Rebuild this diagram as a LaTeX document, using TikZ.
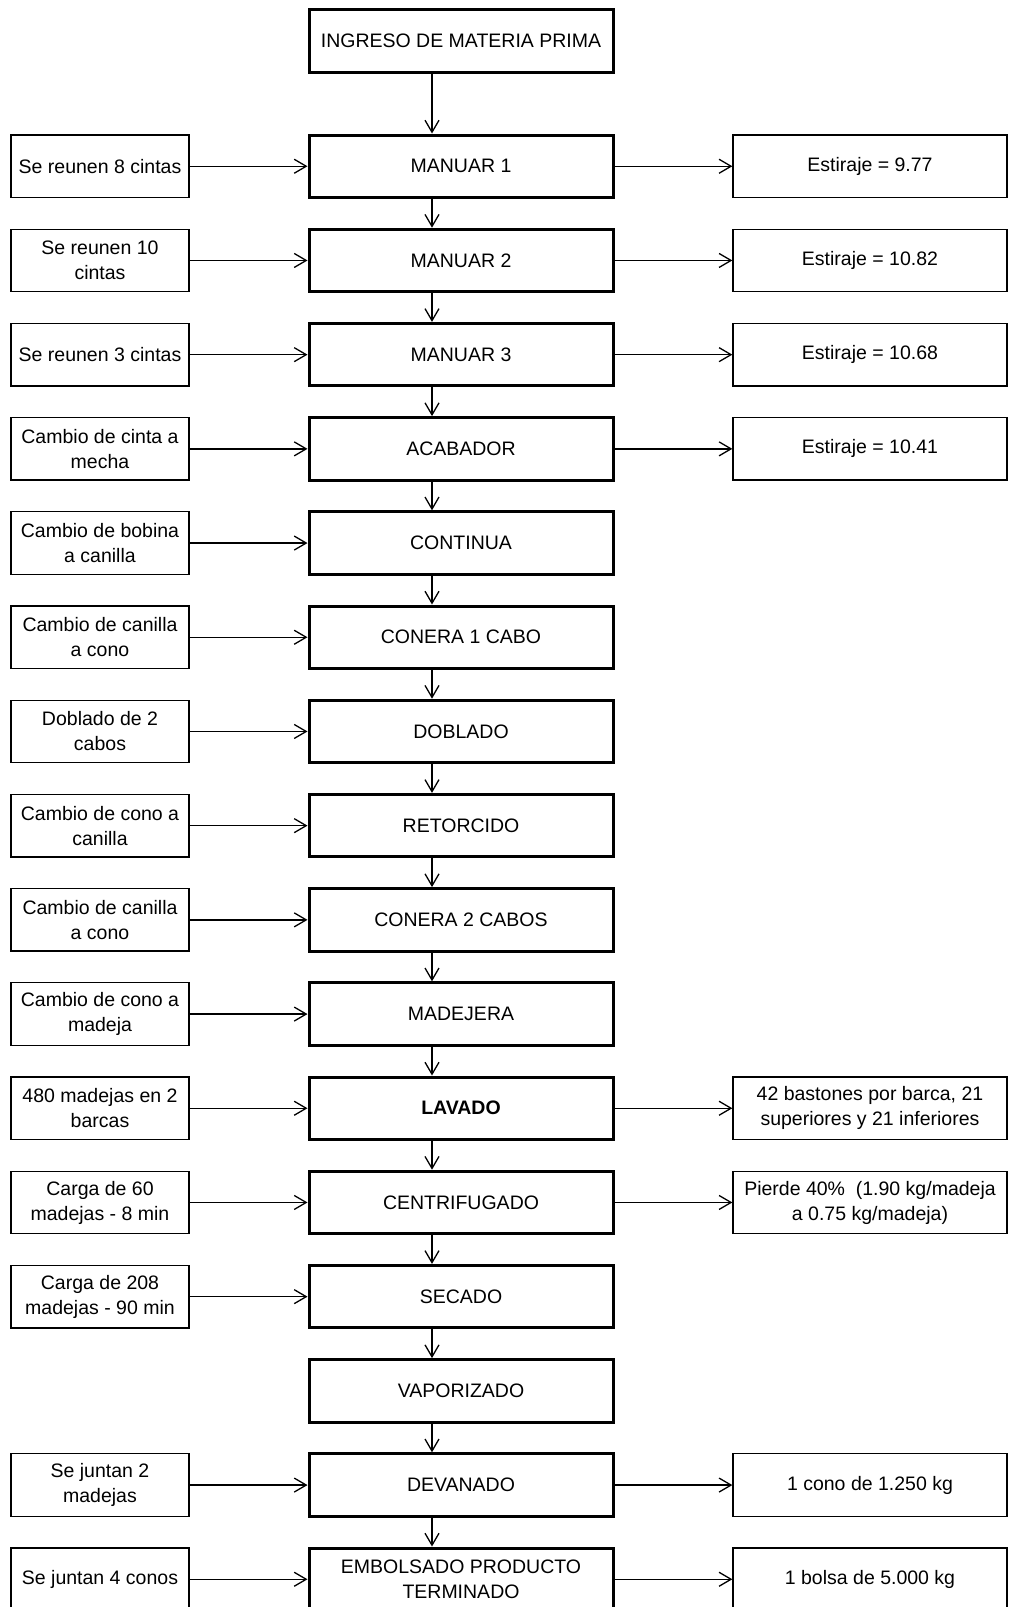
\documentclass[tikz,border=0pt]{standalone}
\usepackage{fontspec}
\setmainfont{Liberation Sans}
\usetikzlibrary{arrows.meta}
\begin{document}
\begin{tikzpicture}[x=1pt,y=-1pt,
  txt/.style={align=center, inner sep=0pt, font=\fontsize{19.5}{25}\selectfont, text=black},
  mainbox/.style={txt, draw, line width=3pt, minimum width=304pt, minimum height=62.5pt},
  leftbox/.style={txt, draw, line width=1.3pt, minimum width=178pt, minimum height=62.5pt},
  rightbox/.style={txt, draw, line width=1.3pt, minimum width=274pt, minimum height=62.5pt},
  arr/.style={line width=1.3pt, -{Straight Barb[length=12pt,width=14pt]}}]
\useasboundingbox (0,0) rectangle (1009,1607);
\coordinate (vx) at (432,0);

% main column
\node[mainbox] (t)   at (461,40.75)   {INGRESO DE MATERIA PRIMA};
\node[mainbox] (m0)  at (461,166.25)  {MANUAR 1};
\node[mainbox] (m1)  at (461,260.45)  {MANUAR 2};
\node[mainbox] (m2)  at (461,354.65)  {MANUAR 3};
\node[mainbox] (m3)  at (461,448.85)  {ACABADOR};
\node[mainbox] (m4)  at (461,543.05)  {CONTINUA};
\node[mainbox] (m5)  at (461,637.25)  {CONERA 1 CABO};
\node[mainbox] (m6)  at (461,731.45)  {DOBLADO};
\node[mainbox] (m7)  at (461,825.65)  {RETORCIDO};
\node[mainbox] (m8)  at (461,919.85)  {CONERA 2 CABOS};
\node[mainbox] (m9)  at (461,1014.05) {MADEJERA};
\node[mainbox] (m10) at (461,1108.25) {\textbf{LAVADO}};
\node[mainbox] (m11) at (461,1202.45) {CENTRIFUGADO};
\node[mainbox] (m12) at (461,1296.65) {SECADO};
\node[mainbox] (m13) at (461,1390.85) {VAPORIZADO};
\node[mainbox] (m14) at (461,1485.05) {DEVANADO};
\node[mainbox] (m15) at (461,1579.25) {EMBOLSADO PRODUCTO\\TERMINADO};

% vertical arrows
\draw[arr] (t.south -| vx) -- (m0.north -| vx);
\foreach \a/\b in {m0/m1,m1/m2,m2/m3,m3/m4,m4/m5,m5/m6,m6/m7,m7/m8,m8/m9,m9/m10,m10/m11,m11/m12,m12/m13,m13/m14,m14/m15}
  \draw[arr] (\a.south -| vx) -- (\b.north -| vx);

% left boxes
\node[leftbox] (l0)  at (100,166.25)  {Se reunen 8 cintas};
\node[leftbox] (l1)  at (100,260.45)  {Se reunen 10\\cintas};
\node[leftbox] (l2)  at (100,354.65)  {Se reunen 3 cintas};
\node[leftbox] (l3)  at (100,448.85)  {Cambio de cinta a\\mecha};
\node[leftbox] (l4)  at (100,543.05)  {Cambio de bobina\\a canilla};
\node[leftbox] (l5)  at (100,637.25)  {Cambio de canilla\\a cono};
\node[leftbox] (l6)  at (100,731.45)  {Doblado de 2\\cabos};
\node[leftbox] (l7)  at (100,825.65)  {Cambio de cono a\\canilla};
\node[leftbox] (l8)  at (100,919.85)  {Cambio de canilla\\a cono};
\node[leftbox] (l9)  at (100,1014.05) {Cambio de cono a\\madeja};
\node[leftbox] (l10) at (100,1108.25) {480 madejas en 2\\barcas};
\node[leftbox] (l11) at (100,1202.45) {Carga de 60\\madejas - 8 min};
\node[leftbox] (l12) at (100,1296.65) {Carga de 208\\madejas - 90 min};
\node[leftbox] (l14) at (100,1485.05) {Se juntan 2\\madejas};
\node[leftbox] (l15) at (100,1579.25) {Se juntan 4 conos};

\foreach \i in {0,1,2,3,4,5,6,7,8,9,10,11,12,14,15}
  \draw[arr] (l\i.east) -- (m\i.west);

% right boxes
\node[rightbox] (r0)  at (870,166.25)  {Estiraje = 9.77};
\node[rightbox] (r1)  at (870,260.45)  {Estiraje = 10.82};
\node[rightbox] (r2)  at (870,354.65)  {Estiraje = 10.68};
\node[rightbox] (r3)  at (870,448.85)  {Estiraje = 10.41};
\node[rightbox] (r10) at (870,1108.25) {42 bastones por barca, 21\\superiores y 21 inferiores};
\node[rightbox] (r11) at (870,1202.45) {Pierde 40\%\ \ (1.90 kg/madeja\\a 0.75 kg/madeja)};
\node[rightbox] (r14) at (870,1485.05) {1 cono de 1.250 kg};
\node[rightbox] (r15) at (870,1579.25) {1 bolsa de 5.000 kg};

\foreach \i in {0,1,2,3,10,11,14,15}
  \draw[arr] (m\i.east) -- (r\i.west);
\end{tikzpicture}
\end{document}
